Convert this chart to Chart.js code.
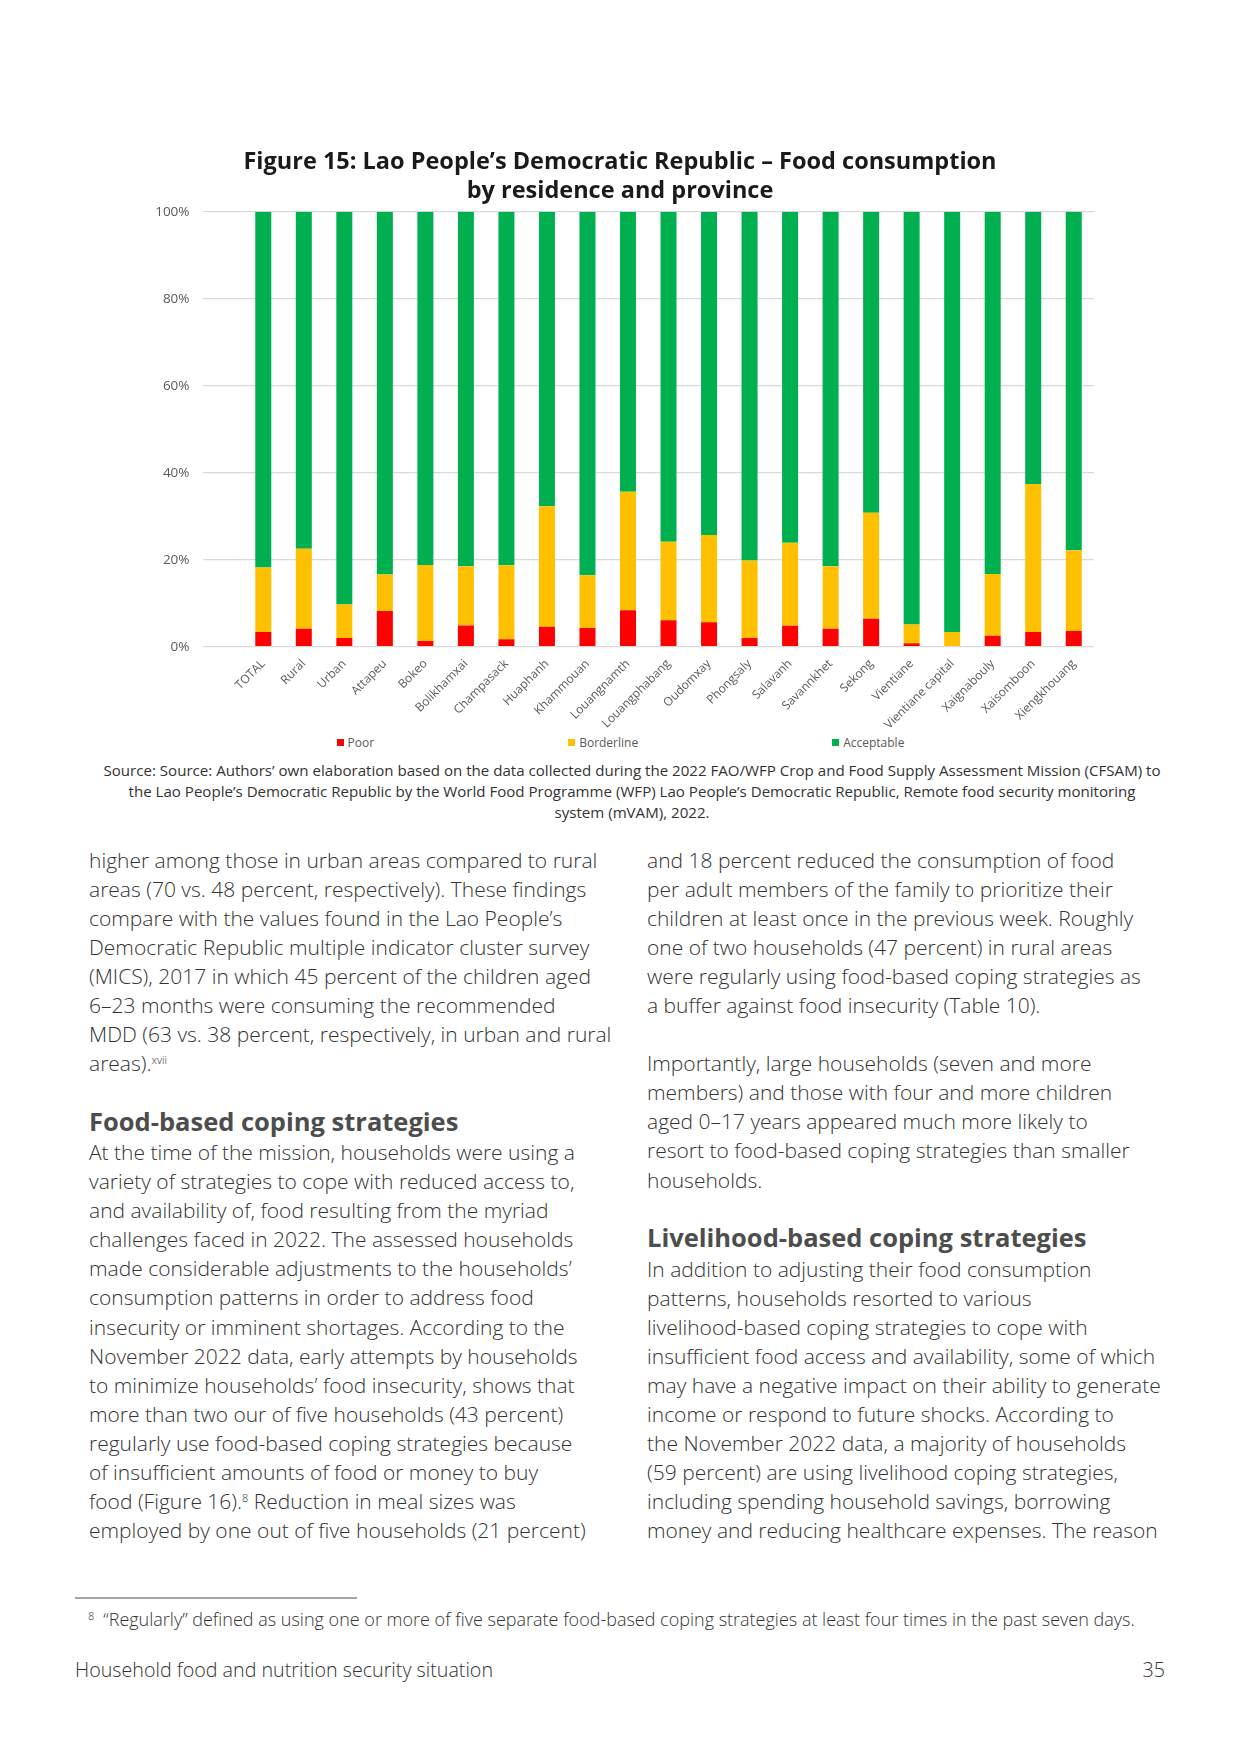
<!DOCTYPE html>
<html>
<head>
<meta charset="utf-8">
<script src="https://cdn.jsdelivr.net/npm/chart.js@4.4.1/dist/chart.umd.min.js"></script>
<style>
  body{margin:0;width:1241px;height:1754px;position:relative;background:#fff;font-family:"Open Sans",sans-serif;color:#333;}
  #chartBox{position:absolute;left:146px;top:130px;width:968px;height:600px;}
  #legend{position:absolute;left:0;width:1241px;top:734px;display:flex;justify-content:center;gap:194px;font-size:12px;color:#595959;}
  #legend span.item{display:flex;align-items:center;}
  #legend i{display:inline-block;width:7px;height:7px;margin-right:4px;}
  #source{position:absolute;left:88px;width:1088px;top:760px;text-align:center;font-size:15.1px;line-height:21px;color:#333;}
  .col{position:absolute;font-size:21px;line-height:29.1px;font-weight:300;white-space:nowrap;color:#333;}
  .col sup{font-size:11px;line-height:0;vertical-align:7px;}
  .head{position:absolute;font-size:25.5px;line-height:29.1px;font-weight:700;color:#4d4d4d;white-space:nowrap;}
  #rule{position:absolute;left:75px;top:1597px;width:282px;height:2px;background:#a6a6a6;}
  #foot{position:absolute;left:88px;top:1607px;font-size:18px;font-weight:300;white-space:nowrap;}
  #foot sup{font-size:11px;vertical-align:6px;line-height:0;margin-right:9px;}
  #footer{position:absolute;left:75px;top:1656px;font-size:19.7px;font-weight:300;}
  #page{position:absolute;right:76px;top:1656px;font-size:19.7px;font-weight:300;}
</style>
</head>
<body>

<div id="chartBox"><canvas id="foodChart"></canvas></div>
<div id="legend"></div>
<div id="source">Source: Source: Authors’ own elaboration based on the data collected during the 2022 FAO/WFP Crop and Food Supply Assessment Mission (CFSAM) to<br>the Lao People’s Democratic Republic by the World Food Programme (WFP) Lao People’s Democratic Republic, Remote food security monitoring<br>system (mVAM), 2022.</div>

<div class="col" style="left:89px;top:845.5px;">higher among those in urban areas compared to rural<br>areas (70 vs. 48 percent, respectively). These findings<br>compare with the values found in the Lao People’s<br>Democratic Republic multiple indicator cluster survey<br>(MICS), 2017 in which 45 percent of the children aged<br>6–23 months were consuming the recommended<br>MDD (63 vs. 38 percent, respectively, in urban and rural<br>areas).<sup>xvii</sup></div>

<div class="head" style="left:89px;top:1106.5px;">Food-based coping strategies</div>

<div class="col" style="left:89px;top:1138px;">At the time of the mission, households were using a<br>variety of strategies to cope with reduced access to,<br>and availability of, food resulting from the myriad<br>challenges faced in 2022. The assessed households<br>made considerable adjustments to the households’<br>consumption patterns in order to address food<br>insecurity or imminent shortages. According to the<br>November 2022 data, early attempts by households<br>to minimize households’ food insecurity, shows that<br>more than two our of five households (43 percent)<br>regularly use food-based coping strategies because<br>of insufficient amounts of food or money to buy<br>food (Figure 16).<sup>8</sup> Reduction in meal sizes was<br>employed by one out of five households (21 percent)</div>

<div class="col" style="left:647px;top:845.5px;">and 18 percent reduced the consumption of food<br>per adult members of the family to prioritize their<br>children at least once in the previous week. Roughly<br>one of two households (47 percent) in rural areas<br>were regularly using food-based coping strategies as<br>a buffer against food insecurity (Table 10).<br><br>Importantly, large households (seven and more<br>members) and those with four and more children<br>aged 0–17 years appeared much more likely to<br>resort to food-based coping strategies than smaller<br>households.</div>

<div class="head" style="left:647px;top:1223px;">Livelihood-based coping strategies</div>

<div class="col" style="left:647px;top:1254.5px;">In addition to adjusting their food consumption<br>patterns, households resorted to various<br>livelihood-based coping strategies to cope with<br>insufficient food access and availability, some of which<br>may have a negative impact on their ability to generate<br>income or respond to future shocks. According to<br>the November 2022 data, a majority of households<br>(59 percent) are using livelihood coping strategies,<br>including spending household savings, borrowing<br>money and reducing healthcare expenses. The reason</div>

<div id="rule"></div>
<div id="foot"><sup>8</sup>“Regularly” defined as using one or more of five separate food-based coping strategies at least four times in the past seven days.</div>
<div id="footer">Household food and nutrition security situation</div>
<div id="page">35</div>

<script>
// ================= DATA =================
const categories = ["TOTAL","Rural","Urban","Attapeu","Bokeo","Bolikhamxai","Champasack","Huaphanh",
  "Khammouan","Louangnamth","Louangphabang","Oudomxay","Phongsaly","Salavanh","Savannkhet","Sekong",
  "Vientiane","Vientiane capital","Xaignabouly","Xaisomboon","Xiengkhouang"];

const poor       = [3.4, 4.1, 2.0, 8.2, 1.3, 4.9, 1.7, 4.6, 4.3, 8.4, 6.1, 5.6, 2.0, 4.8, 4.1, 6.4, 0.8, 0.0, 2.5, 3.4, 3.6];
const borderline = [14.8,18.4, 7.7, 8.4,17.5,13.6,17.0,27.7,12.1,27.2,18.0,20.1,17.8,19.1,14.4,24.4, 4.3, 3.4,14.2,34.0,18.6];
const acceptable = [81.8,77.5,90.3,83.4,81.2,81.5,81.3,67.7,83.6,64.4,75.9,74.3,80.2,76.1,81.5,69.2,94.9,96.6,83.3,62.6,77.8];

const yTicks = [0, 20, 40, 60, 80, 100];

const titleLines = ["Figure 15: Lao People’s Democratic Republic – Food consumption", "by residence and province"];

// the original chart leaves one empty slot before the first bar
const labels = [""].concat(categories);
const pad = arr => [null].concat(arr);

// ================= CHART =================
const ctx = document.getElementById("foodChart").getContext("2d");
const chart = new Chart(ctx, {
  type: "bar",
  data: {
    labels: labels,
    datasets: [
      {label: "Poor", data: pad(poor), backgroundColor: "#FF0000"},
      {label: "Borderline", data: pad(borderline), backgroundColor: "#FFC000"},
      {label: "Acceptable", data: pad(acceptable), backgroundColor: "#00B050"}
    ]
  },
  options: {
    responsive: true,
    maintainAspectRatio: false,
    animation: false,
    layout: {padding: {left: 0, right: 20, top: 0, bottom: 0}},
    datasets: {bar: {barPercentage: 0.395, categoryPercentage: 1, borderWidth: 0}},
    plugins: {
      legend: {display: false},
      tooltip: {enabled: false},
      title: {
        display: true,
        text: titleLines,
        color: "#1a1a1a",
        font: {family: "Open Sans", size: 23.5, weight: "bold", lineHeight: 29/23.5},
        padding: {top: 17.5, bottom: 6.2}
      }
    },
    scales: {
      x: {
        stacked: true,
        grid: {display: false},
        border: {display: false},
        ticks: {
          autoSkip: false, minRotation: 45, maxRotation: 45,
          color: "#595959", font: {family: "Open Sans", size: 12}, padding: 2
        },
        afterFit: s => { s.height = 83.3; }
      },
      y: {
        stacked: true,
        min: 0, max: 100,
        afterBuildTicks: s => { s.ticks = yTicks.map(v => ({value: v})); },
        grid: {color: "#d9d9d9", lineWidth: 1.3, drawTicks: false},
        border: {display: false},
        ticks: {
          color: "#595959", font: {family: "Open Sans", size: 13.5}, padding: 13,
          callback: v => v + "%"
        },
        afterFit: s => { s.width = 56.5; }
      }
    }
  }
});

// ================= LEGEND =================
const legend = document.getElementById("legend");
chart.data.datasets.forEach(ds => {
  const item = document.createElement("span");
  item.className = "item";
  item.innerHTML = `<i style="background:${ds.backgroundColor}"></i>${ds.label}`;
  legend.appendChild(item);
});
</script>
</body>
</html>
